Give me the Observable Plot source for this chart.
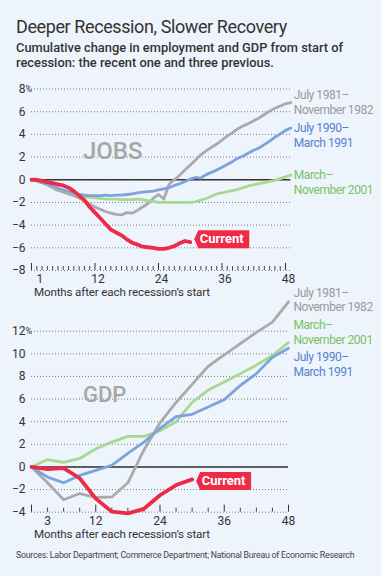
<!DOCTYPE html>
<html>
<head>
<meta charset="utf-8">
<script src="https://cdn.jsdelivr.net/npm/d3@7"></script>
<script src="https://cdn.jsdelivr.net/npm/@observablehq/plot@0.6"></script>
<style>
html, body { margin: 0; padding: 0; background: #eef4fc; }
#page { position: relative; width: 381px; height: 576px; overflow: hidden; font-family: Roboto, "Noto Sans", sans-serif; color: #333; background: #eef4fc; }
.abs { position: absolute; white-space: nowrap; }
#title { left: 16px; top: 16px; font-size: 18px; line-height: 22px; font-weight: 400; color: #333; letter-spacing: -0.4px; }
#subtitle { left: 16px; top: 40px; font-size: 12.85px; line-height: 15px; font-weight: 500; color: #333; }
.big { font-size: 24px; line-height: 28px; color: #a6a6a6; font-weight: 500; }
#jobsName { left: 83px; top: 137px; }
#gdpName { left: 83px; top: 382px; font-size: 22px; line-height: 26px; }
.xlab { left: 34px; font-size: 11.6px; line-height: 12px; color: #333; letter-spacing: -0.15px; }
#jobsXlab { top: 285.8px; }
#gdpXlab { top: 527.5px; }
#source { left: 16px; top: 549px; font-size: 8.8px; line-height: 12px; color: #444; letter-spacing: -0.25px; }
.chart { position: absolute; left: 0; }
#jobs { top: 70px; }
#gdp { top: 285px; }
.chart g.serieslabel text { letter-spacing: -0.45px; }
</style>
</head>
<body>
<div id="page">
  <div id="title" class="abs">Deeper Recession, Slower Recovery</div>
  <div id="subtitle" class="abs">Cumulative change in employment and GDP from start of<br>recession: the recent one and three previous.</div>
  <div id="jobs" class="chart"></div>
  <div id="gdp" class="chart"></div>
  <div id="jobsName" class="abs big">JOBS</div>
  <div id="gdpName" class="abs big">GDP</div>
  <div id="jobsXlab" class="abs xlab">Months after each recession’s start</div>
  <div id="gdpXlab" class="abs xlab">Months after each recession’s start</div>
  <div id="source" class="abs">Sources: Labor Department; Commerce Department; National Bureau of Economic Research</div>
</div>
<script>
// ---------- DATA ----------
// Jobs: cumulative % change in employment, monthly, months 0..49 after recession start
const jobsMonths = d3.range(0, 50);
const jobs1981 = [0,-0.1,-0.25,-0.45,-0.7,-0.95,-1.1,-1.25,-1.4,-1.6,-1.85,-2.15,-2.4,-2.6,-2.8,-2.95,-3.05,-3.1,-2.9,-2.95,-2.7,-2.4,-2.1,-1.65,-1.3,-1.7,-0.4,0.0,0.4,0.85,1.3,1.75,2.2,2.55,2.85,3.15,3.5,3.85,4.15,4.5,4.75,4.95,5.2,5.45,5.75,6.05,6.3,6.5,6.7,6.8];
const jobs1990 = [0,-0.1,-0.25,-0.4,-0.55,-0.75,-0.9,-1.05,-1.2,-1.3,-1.35,-1.4,-1.4,-1.4,-1.35,-1.4,-1.35,-1.35,-1.3,-1.25,-1.15,-1.1,-1.05,-1.0,-0.9,-0.8,-0.7,-0.5,-0.35,-0.15,0.05,0.2,0.15,0.45,0.65,0.85,1.1,1.35,1.6,1.9,2.1,2.35,2.6,2.8,3.1,3.4,3.75,4.05,4.35,4.55];
const jobs2001 = [0,-0.1,-0.25,-0.4,-0.6,-0.8,-0.95,-1.1,-1.25,-1.4,-1.5,-1.55,-1.6,-1.65,-1.7,-1.7,-1.7,-1.75,-1.75,-1.75,-1.7,-1.75,-1.85,-1.9,-2.0,-2.0,-2.0,-2.0,-2.0,-2.0,-2.0,-1.95,-1.8,-1.65,-1.45,-1.25,-1.15,-1.05,-0.95,-0.85,-0.7,-0.55,-0.45,-0.35,-0.25,-0.15,-0.05,0.1,0.25,0.4];
const jobsCurrent = [0,0,-0.1,-0.2,-0.3,-0.4,-0.5,-0.7,-1.0,-1.4,-1.8,-2.4,-2.9,-3.4,-3.9,-4.4,-4.65,-4.9,-5.25,-5.55,-5.7,-5.9,-5.95,-6.0,-6.1,-6.1,-6.0,-5.85,-5.6,-5.4,-5.5];

// GDP: cumulative % change, quarterly
const gdpMonths = [0,3,6,9,12,15,18,21,24,27,30,33,36,39,42,45,48];
const gdp1981 = [0,-1.4,-2.9,-2.35,-2.7,-2.65,-1.4,1.5,3.9,5.7,7.3,8.9,9.9,10.9,11.9,12.8,14.6];
const gdp1990 = [0,-0.9,-1.4,-0.75,-0.3,0.15,1.2,2.2,3.4,4.45,4.65,5.3,5.95,7.2,8.25,9.7,10.5];
const gdp2001 = [0,0.65,0.4,0.75,1.6,2.2,2.7,2.7,3.2,4.0,5.7,6.8,7.5,8.25,9.0,9.85,11.0];
const gdpCurrent = [0,-0.2,-0.1,-1.0,-2.8,-3.95,-4.1,-3.7,-2.5,-1.6,-1.1];

// Axis ticks
const jobsYTicks = [-8,-6,-4,-2,0,2,4,6,8];
const jobsXLabels = [1,12,24,36,48];
const jobsMajor = [0,12,24,36,48];
const jobsMinor = d3.range(1, 48).filter(m => m % 12 !== 0);
const gdpYTicks = [-4,-2,0,2,4,6,8,10,12];
const gdpXLabels = [3,12,24,36,48];
const gdpMajor = [0,12,24,36,48];
const gdpMinor = [3,6,9,15,18,21,27,30,33,39,42,45];

// Series names
const name1981 = "July 1981–\nNovember 1982";
const name1990 = "July 1990–\nMarch 1991";
const name2001 = "March–\nNovember 2001";
const currentName = "Current";

// ---------- STYLE ----------
const C = {
  gray: "#aaaaaa", grayText: "#9a9a9a",
  blue: "#7fa2dc", blueText: "#5683cc",
  green: "#a7d98f", greenText: "#79c262",
  red: "#ee2b47"
};

function table(months, values, series) {
  return values.map((v, i) => ({m: months[i], v, series}));
}

const callout = {
  draw(ctx) {
    ctx.moveTo(4, 0);
    ctx.lineTo(8, -9);
    ctx.lineTo(59, -9);
    ctx.lineTo(59, 9);
    ctx.lineTo(8, 9);
    ctx.closePath();
  }
};

function panel({months, s1981, s1990, s2001, cur, yTicks, yDomain, xDomain, xLabels, major, minor, width, height, mt, mb, ml, mr, labelDx, labelDy, tickLabelDx}) {
  const d81 = table(months, s1981, "1981");
  const d90 = table(months, s1990, "1990");
  const d01 = table(months, s2001, "2001");
  const dc = table(months, cur, "cur");
  const frameH = height - mt - mb;
  const last = a => [a[a.length - 1]];
  const pctTick = [yTicks[yTicks.length - 1]];
  const lab = {textAnchor: "start", lineAnchor: "middle", lineHeight: 1.25, dx: labelDx, fontSize: 12, className: "serieslabel"};
  return Plot.plot({
    width, height,
    marginTop: mt, marginBottom: mb, marginLeft: ml, marginRight: mr,
    style: {background: "transparent", overflow: "visible", fontFamily: "Roboto, sans-serif", fontSize: "12px", color: "#333"},
    x: {domain: xDomain},
    y: {domain: yDomain},
    marks: [
      Plot.gridY(yTicks, {stroke: "#7d7d7d", strokeOpacity: 1, strokeDasharray: "1,2"}),
      Plot.ruleY([0], {stroke: "#333", strokeWidth: 1.4}),
      Plot.axisY(yTicks, {tickSize: 0, tickPadding: 6, label: null, fontSize: 12, fill: "#333"}),
      Plot.text(pctTick, {y: d => d, frameAnchor: "left", text: () => "%", textAnchor: "start", dx: -6, fontSize: 9, fill: "#333"}),
      Plot.axisX(xLabels, {tickSize: 0, tickPadding: 4, label: null, fontSize: 12, fill: "#333", dx: tickLabelDx}),
      Plot.ruleX(major, {x: d => d, insetTop: frameH - 7, stroke: "#333", strokeWidth: 1}),
      Plot.ruleX(minor, {x: d => d, insetTop: frameH - 4, stroke: "#444", strokeWidth: 1}),
      Plot.line(d81, {x: "m", y: "v", stroke: C.gray, strokeWidth: 2.8}),
      Plot.line(d01, {x: "m", y: "v", stroke: C.green, strokeWidth: 2.8}),
      Plot.line(d90, {x: "m", y: "v", stroke: C.blue, strokeWidth: 2.8}),
      Plot.line(dc, {x: "m", y: "v", stroke: C.red, strokeWidth: 3.8}),
      Plot.text(last(d81), {...lab, x: "m", y: "v", text: () => name1981, dy: labelDy[0], fill: C.grayText}),
      Plot.text(last(d90), {...lab, x: "m", y: "v", text: () => name1990, dy: labelDy[1], fill: C.blueText}),
      Plot.text(last(d01), {...lab, x: "m", y: "v", text: () => name2001, dy: labelDy[2], fill: C.greenText}),
      Plot.dot(last(dc), {x: "m", y: "v", symbol: callout, fill: C.red, stroke: "none", dy: labelDy[3]}),
      Plot.text(last(dc), {x: "m", y: "v", text: () => currentName, textAnchor: "start", dx: 9.5, dy: labelDy[3], fill: "white", fontWeight: 700, fontSize: 13})
    ]
  });
}

document.getElementById("jobs").append(panel({
  months: jobsMonths, s1981: jobs1981, s1990: jobs1990, s2001: jobs2001, cur: jobsCurrent,
  yTicks: jobsYTicks, yDomain: [-8, 8], xDomain: [0, 49], xLabels: jobsXLabels, major: jobsMajor, minor: jobsMinor,
  width: 381, height: 230, mt: 18.5, mb: 30, ml: 31, mr: 90.7,
  labelDx: 3, labelDy: [-1.3, 6.3, 6, -3], tickLabelDx: 3
}));

document.getElementById("gdp").append(panel({
  months: gdpMonths, s1981: gdp1981, s1990: gdp1990, s2001: gdp2001, cur: gdpCurrent,
  yTicks: gdpYTicks, yDomain: [-4, 12], xDomain: [0, 48], xLabels: gdpXLabels, major: gdpMajor, minor: gdpMinor,
  width: 381, height: 260, mt: 45.7, mb: 33.3, ml: 31, mr: 93,
  labelDx: 5, labelDy: [-2.6, 16, -11.3, 1.5], tickLabelDx: 0
}));
</script>
</body>
</html>
